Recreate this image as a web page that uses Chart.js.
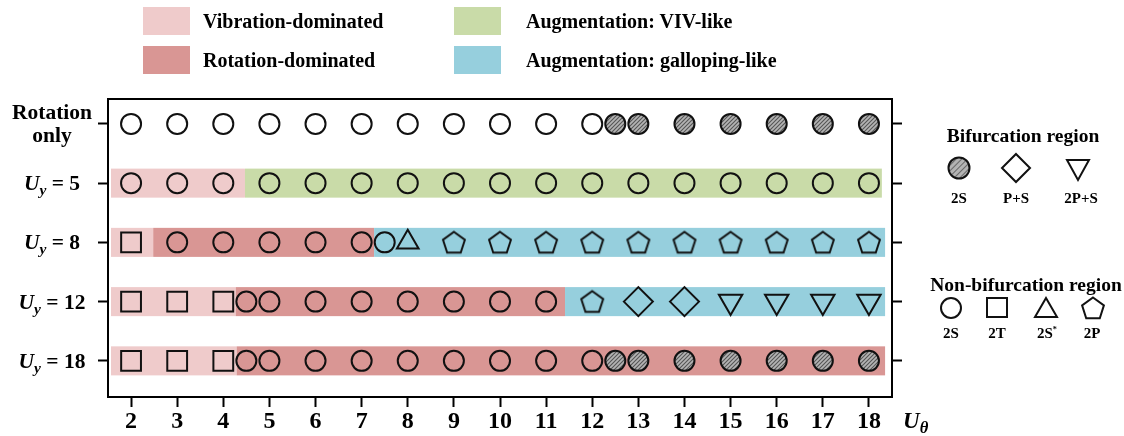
<!DOCTYPE html>
<html>
<head>
<meta charset="utf-8">
<script src="https://cdn.jsdelivr.net/npm/chart.js@4.4.0/dist/chart.umd.min.js"></script>
<style>
  html, body { margin: 0; padding: 0; background: #fff; }
  #wrap { position: relative; width: 1124px; height: 436px; overflow: hidden;
          font-family: "Liberation Serif", "Times New Roman", serif; font-weight: bold; color: #000; }
  #chart { position: absolute; left: 0; top: 0; }
  .sw { position: absolute; width: 47px; height: 28px; }
  .lt { position: absolute; font-size: 20px; line-height: 1; transform: translateY(-50%); white-space: nowrap; }
  .rowlab { position: absolute; left: 2px; width: 100px; text-align: center; font-size: 21.5px;
            line-height: 23px; transform: translateY(-50%); white-space: nowrap; }
  .rowlab i { font-style: italic; }
  .rowlab sub, #xtitle sub { font-size: 0.72em; vertical-align: -0.35em; line-height: 0; font-style: italic; }
  .hd { position: absolute; font-size: 19.5px; line-height: 1; transform: translate(-50%, -50%); white-space: nowrap; }
  .sm { position: absolute; font-size: 15px; line-height: 1; transform: translate(-50%, -50%); white-space: nowrap; }
  .sm sup { font-size: 0.55em; vertical-align: 0.7em; line-height: 0; }
  #xtitle { position: absolute; left: 903px; top: 420px; font-size: 23px; line-height: 1;
            transform: translateY(-50%); font-style: italic; white-space: nowrap; }
  #marks { position: absolute; left: 0; top: 0; }
</style>
</head>
<body>
<div id="wrap">
  <canvas id="chart" width="1124" height="436"></canvas>

  <!-- regime legend -->
  <div class="sw" id="sw-vib" style="left:143px; top:7px;"></div>
  <div class="lt" style="left:203px; top:21px;">Vibration-dominated</div>
  <div class="sw" id="sw-rot" style="left:143px; top:46px;"></div>
  <div class="lt" style="left:203px; top:60px;">Rotation-dominated</div>
  <div class="sw" id="sw-viv" style="left:454px; top:7px;"></div>
  <div class="lt" style="left:526px; top:21px;">Augmentation: VIV-like</div>
  <div class="sw" id="sw-gal" style="left:454px; top:46px;"></div>
  <div class="lt" style="left:526px; top:60px;">Augmentation: galloping-like</div>

  <!-- wake mode legend -->
  <svg id="marks" width="1124" height="436">
    <defs>
      <pattern id="hatch" width="4" height="4" patternUnits="userSpaceOnUse" patternTransform="rotate(45)">
        <rect width="4" height="4" fill="#b4b4b4"></rect>
        <line x1="0" y1="0" x2="0" y2="4" stroke="#555" stroke-width="1.6"></line>
      </pattern>
    </defs>
    <g fill="none" stroke="#111" stroke-width="2">
      <circle cx="959" cy="168" r="10.5" fill="url(#hatch)"></circle>
      <polygon points="1016,154 1030,168 1016,182 1002,168"></polygon>
      <polygon points="1067,160 1089,160 1078,180"></polygon>
      <circle cx="951" cy="308" r="10"></circle>
      <rect x="987" y="298" width="20" height="19"></rect>
      <polygon points="1046,298 1057,317 1035,317"></polygon>
      <polygon id="penta" points=""></polygon>
    </g>
  </svg>
  <div class="hd" style="left:1023px; top:136px;">Bifurcation region</div>
  <div class="sm" style="left:959px; top:198px;">2S</div>
  <div class="sm" style="left:1016px; top:198px;">P+S</div>
  <div class="sm" style="left:1081px; top:198px;">2P+S</div>
  <div class="hd" style="left:1026px; top:285px;">Non-bifurcation region</div>
  <div class="sm" style="left:951px; top:333px;">2S</div>
  <div class="sm" style="left:997px; top:333px;">2T</div>
  <div class="sm" style="left:1047px; top:333px;">2S<sup>*</sup></div>
  <div class="sm" style="left:1092px; top:333px;">2P</div>

  <div id="xtitle">U<sub>θ</sub></div>
</div>

<script>
// rows from top to bottom
const rowLabels = ['Rotation only', 'Uy = 5', 'Uy = 8', 'Uy = 12', 'Uy = 18'];
const xTicks = [2, 3, 4, 5, 6, 7, 8, 9, 10, 11, 12, 13, 14, 15, 16, 17, 18];

// U_theta values of each wake mode, one list per row
const open2S = [
  [2, 3, 4, 5, 6, 7, 8, 9, 10, 11, 12],
  [2, 3, 4, 5, 6, 7, 8, 9, 10, 11, 12, 13, 14, 15, 16, 17, 18],
  [3, 4, 5, 6, 7, 7.5],
  [4.5, 5, 6, 7, 8, 9, 10, 11],
  [4.5, 5, 6, 7, 8, 9, 10, 11, 12]
];
const hatched2S = [[12.5, 13, 14, 15, 16, 17, 18], [], [], [], [12.5, 13, 14, 15, 16, 17, 18]];
const square2T = [[], [], [2], [2, 3, 4], [2, 3, 4]];
const triangle2Sstar = [[], [], [8], [], []];
const pentagon2P = [[], [], [9, 10, 11, 12, 13, 14, 15, 16, 17, 18], [12], []];
const diamondPS = [[], [], [], [13, 14], []];
const invTriangle2PS = [[], [], [], [15, 16, 17, 18], []];

// regime bands: [row, from, to]
const vibrationBands = [[1, 1.565, 4.47], [2, 1.565, 2.48], [3, 1.565, 4.27], [4, 1.565, 4.29]];
const rotationBands = [[2, 2.48, 7.27], [3, 4.27, 11.41], [4, 4.29, 18.35]];
const vivBands = [[1, 4.47, 18.28]];
const gallopingBands = [[2, 7.27, 18.35], [3, 11.41, 18.35]];

const colVib = '#efcbcb', colRot = '#d99694', colViv = '#c9dba8', colGal = '#96cfdd';
document.getElementById('sw-vib').style.background = colVib;
document.getElementById('sw-rot').style.background = colRot;
document.getElementById('sw-viv').style.background = colViv;
document.getElementById('sw-gal').style.background = colGal;

// legend pentagon
(function () {
  const cx = 1093, cy = 309, R = 11.5, pts = [];
  for (let k = 0; k < 5; k++) {
    const a = -Math.PI / 2 + k * 2 * Math.PI / 5;
    pts.push((cx + R * Math.cos(a)).toFixed(1) + ',' + (cy + R * Math.sin(a)).toFixed(1));
  }
  document.getElementById('penta').setAttribute('points', pts.join(' '));
})();

function toPoints(rows) {
  return rows.flatMap((xs, r) => xs.map(x => ({ x: x, y: r })));
}

// hatch fill for bifurcation 2S
function makeHatch() {
  const c = document.createElement('canvas');
  c.width = 4; c.height = 4;
  const g = c.getContext('2d');
  g.fillStyle = '#b4b4b4';
  g.fillRect(0, 0, 4, 4);
  g.strokeStyle = '#555';
  g.lineWidth = 1.1;
  g.beginPath();
  g.moveTo(-1, 5); g.lineTo(5, -1);
  g.moveTo(-1, 1); g.lineTo(1, -1);
  g.moveTo(3, 5); g.lineTo(5, 3);
  g.stroke();
  return c;
}

function makePentagon() {
  const c = document.createElement('canvas');
  c.width = 28; c.height = 28;
  const g = c.getContext('2d');
  g.strokeStyle = '#111';
  g.lineWidth = 2;
  g.beginPath();
  for (let k = 0; k < 5; k++) {
    const a = -Math.PI / 2 + k * 2 * Math.PI / 5;
    const px = 14 + 11.5 * Math.cos(a), py = 15 + 11.5 * Math.sin(a);
    if (k === 0) g.moveTo(px, py); else g.lineTo(px, py);
  }
  g.closePath();
  g.stroke();
  return c;
}

const ctx = document.getElementById('chart').getContext('2d');
const hatch = ctx.createPattern(makeHatch(), 'repeat');

const marker = { borderColor: '#111', borderWidth: 2, backgroundColor: 'rgba(0,0,0,0)' };

const bandPlugin = {
  id: 'bands',
  beforeDatasetsDraw(chart) {
    const { ctx, scales: { x, y } } = chart;
    const groups = [[vibrationBands, colVib], [rotationBands, colRot], [vivBands, colViv], [gallopingBands, colGal]];
    ctx.save();
    groups.forEach(([bands, color]) => {
      ctx.fillStyle = color;
      bands.forEach(([r, a, b]) => {
        const x1 = x.getPixelForValue(a), x2 = x.getPixelForValue(b);
        const y1 = y.getPixelForValue(r - 0.245), y2 = y.getPixelForValue(r + 0.245);
        ctx.fillRect(x1, Math.min(y1, y2), x2 - x1, Math.abs(y2 - y1));
      });
    });
    ctx.restore();
  }
};

const framePlugin = {
  id: 'frame',
  afterDraw(chart) {
    const { ctx, chartArea: a } = chart;
    ctx.save();
    ctx.strokeStyle = '#000';
    ctx.lineWidth = 2;
    ctx.beginPath();
    ctx.moveTo(a.left - 1, a.top);
    ctx.lineTo(a.right + 1, a.top);
    ctx.stroke();
    ctx.restore();
  }
};

const tickFont = { family: 'Liberation Serif', weight: 'bold', size: 24, lineHeight: 1 };
const sideAxis = (pos) => ({
  type: 'linear', position: pos, reverse: true, min: -0.42, max: 4.61,
  afterBuildTicks: s => { s.ticks = rowLabels.map((_, i) => ({ value: i })); },
  grid: { drawOnChartArea: false, drawTicks: true, tickLength: 10, tickWidth: 2, tickColor: '#000' },
  border: { display: true, color: '#000', width: 2 },
  ticks: { display: false }
});

const chart = new Chart(ctx, {
  type: 'scatter',
  data: {
    datasets: [
      { label: '2S', data: toPoints(open2S), pointStyle: 'circle', pointRadius: 10, ...marker },
      { label: '2S (bifurcation)', data: toPoints(hatched2S), pointStyle: 'circle', pointRadius: 10,
        ...marker, backgroundColor: hatch },
      { label: '2T', data: toPoints(square2T), pointStyle: 'rect', pointRadius: 14, ...marker },
      { label: '2S*', data: toPoints(triangle2Sstar), pointStyle: 'triangle', pointRadius: 12.5, ...marker },
      { label: '2P', data: toPoints(pentagon2P), pointStyle: makePentagon(), pointRadius: 12, ...marker },
      { label: 'P+S', data: toPoints(diamondPS), pointStyle: 'rectRot', pointRadius: 14.5, ...marker },
      { label: '2P+S', data: toPoints(invTriangle2PS), pointStyle: 'triangle', pointRotation: 180,
        pointRadius: 13.5, ...marker }
    ]
  },
  options: {
    responsive: false,
    animation: false,
    events: [],
    layout: { padding: { left: 98, right: 222, top: 99, bottom: 2 } },
    plugins: { legend: { display: false }, tooltip: { enabled: false } },
    scales: {
      x: {
        type: 'linear', min: 1.5, max: 18.5,
        afterBuildTicks: s => { s.ticks = xTicks.map(v => ({ value: v })); },
        afterFit: s => { s.height = 37; },
        grid: { drawOnChartArea: false, drawTicks: true, tickLength: 10, tickWidth: 2, tickColor: '#000' },
        border: { display: true, color: '#000', width: 2 },
        ticks: { color: '#000', padding: 3, font: tickFont }
      },
      y: sideAxis('left'),
      y2: sideAxis('right')
    }
  },
  plugins: [bandPlugin, framePlugin]
});

// row labels, placed on the y scale
const wrap = document.getElementById('wrap');
rowLabels.forEach((lab, i) => {
  const d = document.createElement('div');
  d.className = 'rowlab';
  if (lab.startsWith('Uy')) {
    d.innerHTML = '<i>U</i><sub>y</sub> = ' + lab.split('=')[1].trim();
  } else {
    d.innerHTML = lab.replace(' ', '<br>');
  }
  d.style.top = chart.scales.y.getPixelForValue(i) + 'px';
  wrap.appendChild(d);
});
</script>
</body>
</html>
